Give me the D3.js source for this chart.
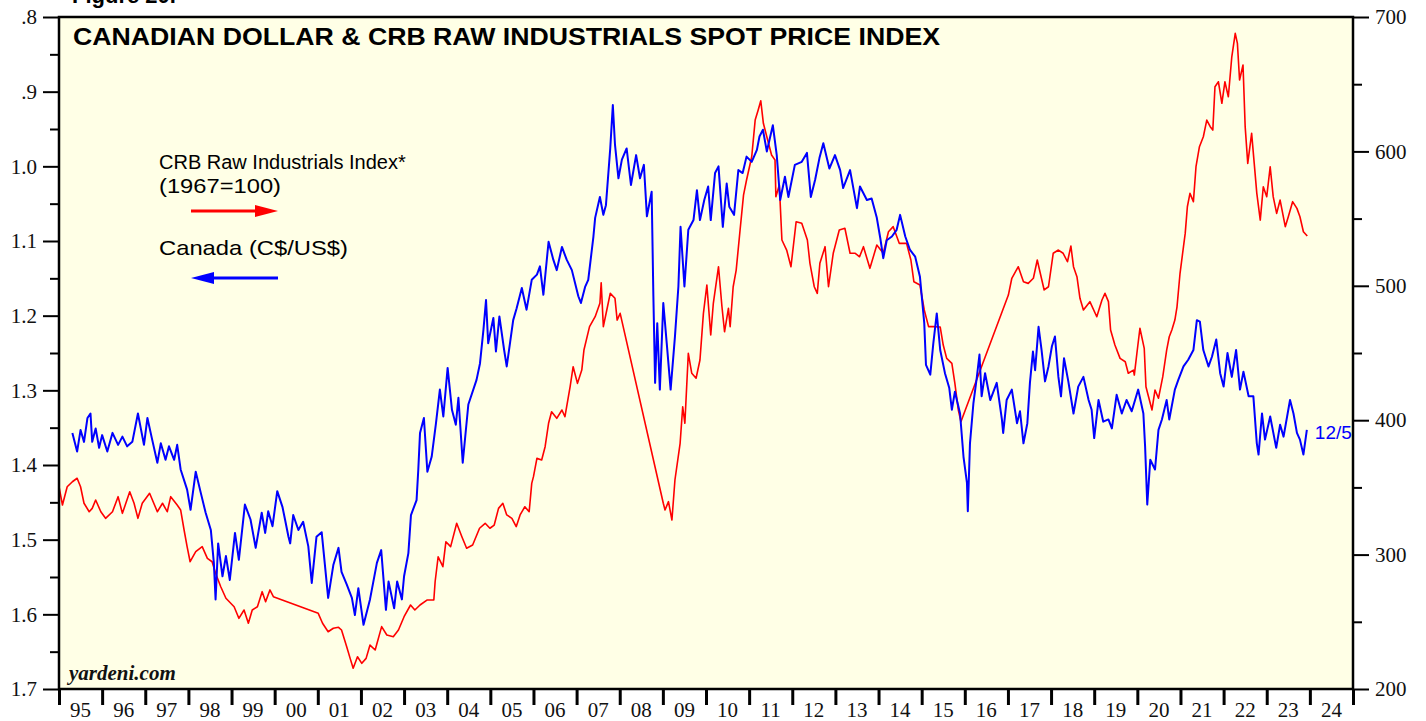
<!DOCTYPE html>
<html>
<head>
<meta charset="utf-8">
<script src="https://cdn.jsdelivr.net/npm/d3@7"></script>
<style>
  body { margin: 0; background: #fff; }
  svg { display: block; }
</style>
</head>
<body>
<svg id="chart" width="1426" height="721"></svg>
<script>
// Canadian dollar, C$ per US$ (left axis, inverted)
var cadYears = [1995.31,1995.42,1995.50,1995.58,1995.66,1995.73,1995.77,1995.85,1995.93,1996.00,
  1996.12,1996.24,1996.37,1996.47,1996.58,1996.70,1996.83,1996.97,1997.05,1997.16,
  1997.28,1997.36,1997.47,1997.55,1997.67,1997.74,1997.82,1997.97,1998.05,1998.17,
  1998.29,1998.40,1998.52,1998.59,1998.63,1998.69,1998.79,1998.87,1998.96,1999.08,
  1999.17,1999.31,1999.44,1999.56,1999.70,1999.78,1999.85,1999.95,2000.06,2000.18,
  2000.24,2000.32,2000.36,2000.43,2000.55,2000.66,2000.78,2000.86,2000.97,2001.09,
  2001.24,2001.36,2001.48,2001.55,2001.67,2001.79,2001.86,2001.94,2002.06,2002.21,
  2002.37,2002.47,2002.58,2002.64,2002.77,2002.84,2002.95,2003.00,2003.10,2003.16,
  2003.29,2003.33,2003.37,2003.46,2003.54,2003.64,2003.74,2003.83,2003.91,2004.01,
  2004.11,2004.20,2004.26,2004.36,2004.49,2004.68,2004.76,2004.84,2004.90,2004.95,
  2005.07,2005.13,2005.21,2005.32,2005.38,2005.46,2005.53,2005.61,2005.73,2005.84,
  2005.96,2006.08,2006.15,2006.23,2006.35,2006.46,2006.54,2006.66,2006.77,2006.89,
  2007.04,2007.10,2007.20,2007.27,2007.39,2007.43,2007.54,2007.62,2007.68,2007.78,
  2007.84,2007.89,2007.97,2008.05,2008.16,2008.26,2008.38,2008.47,2008.56,2008.63,
  2008.74,2008.78,2008.82,2008.87,2008.93,2009.01,2009.09,2009.18,2009.28,2009.36,
  2009.41,2009.50,2009.59,2009.71,2009.79,2009.86,2009.96,2010.05,2010.11,2010.21,
  2010.29,2010.39,2010.48,2010.54,2010.65,2010.75,2010.85,2010.94,2011.06,2011.18,
  2011.24,2011.32,2011.41,2011.55,2011.64,2011.72,2011.83,2011.91,2012.06,2012.22,
  2012.34,2012.43,2012.53,2012.63,2012.72,2012.86,2012.99,2013.11,2013.18,2013.34,
  2013.50,2013.57,2013.73,2013.84,2013.96,2014.04,2014.11,2014.19,2014.31,2014.42,
  2014.50,2014.62,2014.73,2014.85,2014.96,2015.06,2015.10,2015.20,2015.27,2015.35,
  2015.43,2015.54,2015.64,2015.70,2015.77,2015.89,2015.97,2016.05,2016.07,2016.12,
  2016.20,2016.28,2016.34,2016.39,2016.47,2016.59,2016.74,2016.86,2016.89,2016.97,
  2017.09,2017.21,2017.28,2017.36,2017.45,2017.51,2017.58,2017.63,2017.71,2017.78,
  2017.86,2017.94,2018.02,2018.09,2018.17,2018.23,2018.30,2018.40,2018.52,2018.63,
  2018.75,2018.87,2018.94,2019.00,2019.10,2019.21,2019.33,2019.41,2019.52,2019.64,
  2019.75,2019.87,2020.02,2020.14,2020.18,2020.23,2020.30,2020.41,2020.49,2020.57,
  2020.68,2020.74,2020.87,2020.95,2021.07,2021.18,2021.30,2021.38,2021.45,2021.53,
  2021.65,2021.73,2021.83,2021.92,2022.00,2022.09,2022.19,2022.29,2022.38,2022.46,
  2022.58,2022.69,2022.77,2022.81,2022.89,2022.96,2023.08,2023.22,2023.31,2023.39,
  2023.54,2023.62,2023.70,2023.77,2023.85,2023.93];
var cadRate = [1.357,1.382,1.353,1.369,1.337,1.331,1.369,1.351,1.377,1.360,
  1.382,1.357,1.373,1.362,1.375,1.369,1.331,1.373,1.337,1.366,
  1.397,1.371,1.393,1.375,1.393,1.373,1.406,1.433,1.460,1.409,
  1.438,1.464,1.487,1.531,1.580,1.505,1.549,1.522,1.554,1.491,
  1.527,1.453,1.473,1.511,1.464,1.491,1.462,1.482,1.435,1.456,
  1.473,1.496,1.505,1.467,1.487,1.476,1.509,1.558,1.496,1.490,
  1.578,1.534,1.511,1.543,1.560,1.578,1.601,1.565,1.614,1.580,
  1.531,1.514,1.594,1.556,1.592,1.556,1.580,1.549,1.518,1.467,
  1.447,1.406,1.357,1.337,1.409,1.389,1.344,1.299,1.335,1.270,
  1.326,1.346,1.310,1.397,1.319,1.286,1.264,1.219,1.179,1.237,
  1.203,1.248,1.201,1.246,1.268,1.235,1.206,1.190,1.163,1.192,
  1.152,1.145,1.134,1.172,1.101,1.125,1.139,1.108,1.125,1.139,
  1.174,1.183,1.161,1.152,1.094,1.069,1.041,1.065,1.052,0.976,
  0.918,0.971,1.016,0.991,0.976,1.025,0.985,1.016,0.998,1.067,
  1.034,1.174,1.290,1.210,1.299,1.183,1.237,1.299,1.228,1.161,
  1.081,1.161,1.085,1.072,1.032,1.072,1.045,1.027,1.072,1.009,
  1.000,1.081,1.023,1.054,1.065,1.005,1.009,0.987,0.994,0.978,
  0.960,0.951,0.980,0.945,0.985,1.045,1.014,1.041,0.998,0.994,
  0.982,1.041,1.018,0.989,0.969,1.003,0.985,1.005,1.029,1.005,
  1.056,1.027,1.045,1.043,1.069,1.096,1.123,1.099,1.094,1.085,
  1.065,1.094,1.112,1.121,1.148,1.210,1.266,1.279,1.237,1.197,
  1.246,1.277,1.297,1.326,1.302,1.331,1.389,1.424,1.462,1.371,
  1.317,1.282,1.252,1.308,1.277,1.313,1.290,1.339,1.357,1.313,
  1.299,1.344,1.328,1.371,1.344,1.290,1.248,1.273,1.215,1.246,
  1.288,1.268,1.241,1.228,1.282,1.308,1.257,1.288,1.331,1.295,
  1.282,1.313,1.326,1.364,1.313,1.342,1.339,1.351,1.306,1.331,
  1.313,1.328,1.299,1.331,1.375,1.453,1.393,1.406,1.353,1.339,
  1.313,1.339,1.299,1.286,1.268,1.259,1.246,1.206,1.208,1.246,
  1.268,1.255,1.232,1.277,1.295,1.250,1.282,1.246,1.299,1.275,
  1.308,1.308,1.371,1.386,1.331,1.366,1.335,1.377,1.346,1.362,
  1.313,1.331,1.357,1.366,1.386,1.353];

// CRB raw industrials spot price index, 1967=100 (right axis)
var crbYears = [1995.00,1995.08,1995.19,1995.31,1995.42,1995.50,1995.58,1995.70,1995.77,1995.85,
  1995.97,1996.08,1996.24,1996.37,1996.47,1996.64,1996.74,1996.83,1996.93,1997.10,
  1997.28,1997.40,1997.51,1997.59,1997.74,1997.82,1997.90,1997.97,1998.04,1998.17,
  1998.32,1998.44,1998.55,1998.63,1998.75,1998.87,1999.06,1999.17,1999.29,1999.39,
  1999.48,1999.60,1999.71,1999.79,1999.89,1999.97,2001.01,2001.11,2001.24,2001.36,
  2001.48,2001.55,2001.67,2001.75,2001.82,2001.92,2002.02,2002.12,2002.21,2002.33,
  2002.48,2002.60,2002.75,2002.87,2003.00,2003.15,2003.25,2003.37,2003.53,2003.69,
  2003.72,2003.79,2003.90,2003.97,2004.08,2004.22,2004.34,2004.45,2004.59,2004.75,
  2004.88,2004.99,2005.09,2005.19,2005.29,2005.38,2005.50,2005.60,2005.69,2005.80,
  2005.90,2005.96,2006.00,2006.08,2006.19,2006.27,2006.35,2006.42,2006.54,2006.66,
  2006.73,2006.85,2006.92,2007.02,2007.12,2007.17,2007.30,2007.43,2007.54,2007.57,
  2007.62,2007.70,2007.78,2007.89,2007.94,2008.01,2009.01,2009.05,2009.13,2009.21,
  2009.28,2009.40,2009.46,2009.51,2009.59,2009.67,2009.77,2009.86,2009.94,2010.02,
  2010.11,2010.17,2010.29,2010.37,2010.43,2010.52,2010.56,2010.63,2010.70,2010.79,
  2010.87,2010.94,2011.06,2011.14,2011.21,2011.27,2011.33,2011.41,2011.52,2011.60,
  2011.62,2011.70,2011.76,2011.87,2011.97,2012.09,2012.22,2012.35,2012.41,2012.51,
  2012.58,2012.64,2012.76,2012.84,2012.95,2013.09,2013.22,2013.34,2013.46,2013.56,
  2013.65,2013.80,2013.96,2014.11,2014.23,2014.34,2014.48,2014.65,2014.75,2014.82,
  2014.96,2015.06,2015.16,2015.27,2015.43,2015.50,2015.58,2015.70,2015.77,2015.85,
  2015.91,2017.01,2017.09,2017.24,2017.36,2017.47,2017.59,2017.68,2017.75,2017.84,
  2017.94,2018.05,2018.17,2018.28,2018.38,2018.46,2018.52,2018.60,2018.67,2018.75,
  2018.90,2019.06,2019.18,2019.25,2019.33,2019.38,2019.48,2019.60,2019.72,2019.79,
  2019.91,2019.93,2019.99,2020.06,2020.16,2020.20,2020.26,2020.34,2020.41,2020.49,
  2020.59,2020.68,2020.74,2020.80,2020.87,2020.92,2020.99,2021.07,2021.11,2021.16,
  2021.22,2021.30,2021.36,2021.44,2021.53,2021.61,2021.69,2021.75,2021.80,2021.88,
  2021.96,2022.03,2022.11,2022.19,2022.27,2022.32,2022.37,2022.45,2022.50,2022.56,
  2022.65,2022.71,2022.77,2022.85,2022.92,2023.00,2023.08,2023.15,2023.23,2023.31,
  2023.43,2023.50,2023.60,2023.70,2023.77,2023.85,2023.94];
var crbIndex = [350.5,336.9,350.5,354.2,356.8,350.5,338.2,331.9,334.4,340.6,
  331.9,327.0,331.9,343.1,330.7,346.8,338.2,327.0,338.2,345.6,
  331.9,338.2,331.9,343.1,336.9,333.2,318.3,305.9,294.7,302.2,
  305.9,297.2,294.7,286.1,276.1,267.5,261.2,252.6,258.8,248.9,
  258.8,261.2,272.4,265.0,273.7,268.7,256.3,248.9,242.6,245.2,
  245.9,243.9,231.5,222.8,215.4,224.0,219.1,222.8,232.7,229.0,
  246.4,240.2,238.9,243.9,253.8,262.5,258.8,262.5,266.2,266.2,
  279.8,298.4,291.0,309.6,305.9,323.3,313.3,304.7,307.1,319.6,
  323.3,319.6,322.0,334.4,338.2,329.5,327.0,320.8,329.5,335.6,
  331.9,353.0,358.0,371.6,370.4,380.3,397.7,406.3,401.4,407.6,
  402.6,424.9,439.8,427.4,437.3,452.2,469.6,477.0,487.0,502.3,
  469.6,482.0,494.4,490.7,474.5,479.5,338.2,333.2,339.4,325.7,
  355.5,382.8,410.0,397.7,449.8,434.9,431.2,444.8,479.5,500.6,
  463.4,487.0,514.2,484.4,465.8,483.2,469.6,499.3,511.7,541.5,
  567.5,578.7,596.0,623.3,630.8,637.7,620.9,610.9,597.3,593.6,
  566.3,575.0,534.1,526.6,514.2,547.7,546.5,534.1,516.7,499.3,
  494.4,516.7,529.1,499.3,524.2,541.5,542.8,524.2,524.2,521.6,
  529.1,513.0,530.3,524.2,540.2,544.0,531.6,531.6,519.2,503.0,
  500.6,482.0,469.6,469.6,469.3,455.9,446.0,442.3,427.4,407.6,
  398.9,493.1,505.6,514.2,503.0,501.8,505.6,519.2,509.3,496.9,
  499.3,524.2,526.6,524.2,517.9,529.6,514.2,506.8,490.7,482.0,
  488.2,477.0,489.4,494.4,488.2,467.1,455.9,446.0,443.5,434.9,
  437.3,433.6,449.8,468.4,453.5,424.9,417.5,407.6,422.5,416.3,
  432.4,452.2,462.1,467.1,474.5,484.4,509.3,529.1,539.0,558.8,
  568.8,562.6,588.6,603.5,610.9,623.3,618.4,615.9,648.1,651.8,
  635.8,651.8,640.7,670.4,687.8,680.4,653.1,664.3,618.4,591.1,
  613.4,591.1,568.8,548.9,573.7,566.3,588.6,566.3,553.9,563.8,
  544.0,551.4,562.6,557.6,551.4,540.2,537.0];

var yearLabels = ['95','96','97','98','99','00','01','02','03','04','05','06','07','08','09',
  '10','11','12','13','14','15','16','17','18','19','20','21','22','23','24'];
var cadMajor = [0.8, 0.9, 1.0, 1.1, 1.2, 1.3, 1.4, 1.5, 1.6, 1.7];
var cadMinor = [0.85, 0.95, 1.05, 1.15, 1.25, 1.35, 1.45, 1.55, 1.65];
var crbMajor = [200, 300, 400, 500, 600, 700];
var crbMinor = [250, 350, 450, 550, 650];

var margin = {top: 17, right: 73, bottom: 32, left: 59};
var width = 1426 - margin.left - margin.right;
var height = 721 - margin.top - margin.bottom;

var x = d3.scaleLinear().domain([1995, 2025]).range([0, width]);
var yL = d3.scaleLinear().domain([0.8, 1.7]).range([0, height]);
var yR = d3.scaleLinear().domain([200, 700]).range([height, 0]);

var svg = d3.select('#chart');

// figure caption, mostly cut off at the top edge (as in the source image)
svg.append('text')
    .attr('x', 72).attr('y', 3)
    .attr('font-family', 'Liberation Sans, Arial, sans-serif')
    .attr('font-weight', 'bold')
    .attr('font-size', 22)
    .text('Figure 20.');

var g = svg.append('g')
    .attr('transform', 'translate(' + margin.left + ',' + margin.top + ')');

g.append('rect')
    .attr('width', width).attr('height', height)
    .attr('fill', '#ffffe6');

g.append('clipPath').attr('id', 'plot-clip')
  .append('rect').attr('width', width).attr('height', height);

var cadData = cadYears.map(function(d, i) { return {year: d, value: cadRate[i]}; });
var crbData = crbYears.map(function(d, i) { return {year: d, value: crbIndex[i]}; });

var cadLine = d3.line()
    .x(function(d) { return x(d.year); })
    .y(function(d) { return yL(d.value); });
var crbLine = d3.line()
    .x(function(d) { return x(d.year); })
    .y(function(d) { return yR(d.value); });

var lines = g.append('g').attr('clip-path', 'url(#plot-clip)');
lines.append('path')
    .datum(crbData)
    .attr('fill', 'none')
    .attr('stroke', '#ff0000')
    .attr('stroke-width', 1.6)
    .attr('stroke-linejoin', 'round')
    .attr('d', crbLine);
lines.append('path')
    .datum(cadData)
    .attr('fill', 'none')
    .attr('stroke', '#0000ff')
    .attr('stroke-width', 2)
    .attr('stroke-linejoin', 'round')
    .attr('d', cadLine);

// frame
g.append('rect')
    .attr('width', width).attr('height', height)
    .attr('fill', 'none')
    .attr('stroke', '#000')
    .attr('stroke-width', 2.5);

function cadFormat(v) {
  var s = d3.format('.1f')(v);
  return s.charAt(0) === '0' ? s.slice(1) : s;
}

function styleAxis(sel, w) {
  sel.select('.domain').remove();
  sel.selectAll('.tick line').attr('stroke', '#000').attr('stroke-width', w);
  sel.selectAll('.tick text')
      .attr('fill', '#111')
      .attr('font-family', 'Liberation Serif, Times New Roman, serif')
      .attr('font-size', 21);
}

// left axis (inverted C$/US$)
g.append('g')
    .call(d3.axisLeft(yL).tickValues(cadMinor).tickSize(9).tickFormat(''))
    .call(styleAxis, 2);
g.append('g')
    .call(d3.axisLeft(yL).tickValues(cadMajor).tickSize(16).tickPadding(6).tickFormat(cadFormat))
    .call(styleAxis, 2);

// right axis (CRB index)
g.append('g')
    .attr('transform', 'translate(' + width + ',0)')
    .call(d3.axisRight(yR).tickValues(crbMinor).tickSize(9).tickFormat(''))
    .call(styleAxis, 2);
g.append('g')
    .attr('transform', 'translate(' + width + ',0)')
    .call(d3.axisRight(yR).tickValues(crbMajor).tickSize(16).tickPadding(6).tickFormat(d3.format('d')))
    .call(styleAxis, 2);

// bottom axis: year boundaries, labels centred in each year
g.append('g')
    .attr('transform', 'translate(0,' + height + ')')
    .call(d3.axisBottom(x).tickValues(d3.range(1995, 2026)).tickSize(16).tickFormat(''))
    .call(styleAxis, 3);
g.append('g').selectAll('text')
    .data(yearLabels)
    .enter().append('text')
    .attr('x', function(d, i) { return x(1995.5 + i); })
    .attr('y', height + 28)
    .attr('text-anchor', 'middle')
    .attr('fill', '#111')
    .attr('font-family', 'Liberation Serif, Times New Roman, serif')
    .attr('font-size', 21)
    .text(function(d) { return d; });

// title
g.append('text')
    .attr('x', 14).attr('y', 28)
    .attr('font-family', 'Liberation Sans, Arial, sans-serif')
    .attr('font-weight', 'bold')
    .attr('font-size', 23)
    .attr('fill', '#000')
    .attr('textLength', 867)
    .attr('lengthAdjust', 'spacingAndGlyphs')
    .text('CANADIAN DOLLAR & CRB RAW INDUSTRIALS SPOT PRICE INDEX');

// legend
var legendFont = 'Liberation Sans, Arial, sans-serif';
g.append('text').attr('x', 100).attr('y', 152)
    .attr('font-family', legendFont).attr('font-size', 20).attr('fill', '#000')
    .text('CRB Raw Industrials Index*');
g.append('text').attr('x', 100).attr('y', 176)
    .attr('font-family', legendFont).attr('font-size', 21).attr('fill', '#000')
    .attr('textLength', 122).attr('lengthAdjust', 'spacingAndGlyphs')
    .text('(1967=100)');
g.append('line')
    .attr('x1', 132).attr('x2', 200).attr('y1', 194).attr('y2', 194)
    .attr('stroke', '#ff0000').attr('stroke-width', 3);
g.append('path')
    .attr('d', 'M196,188 L219,194 L196,200 Z')
    .attr('fill', '#ff0000');
g.append('text').attr('x', 100).attr('y', 238)
    .attr('font-family', legendFont).attr('font-size', 21).attr('fill', '#000')
    .attr('textLength', 189).attr('lengthAdjust', 'spacingAndGlyphs')
    .text('Canada (C$/US$)');
g.append('line')
    .attr('x1', 152).attr('x2', 219).attr('y1', 261).attr('y2', 261)
    .attr('stroke', '#0000ff').attr('stroke-width', 3);
g.append('path')
    .attr('d', 'M155,255 L132,261 L155,267 Z')
    .attr('fill', '#0000ff');

// last-date label
g.append('text')
    .attr('x', x(2023.93) + 8)
    .attr('y', yL(cadRate[cadRate.length - 1]) + 9)
    .attr('font-family', legendFont).attr('font-size', 19)
    .attr('fill', '#0000ff')
    .text('12/5');

// source
g.append('text')
    .attr('x', 10).attr('y', height - 9)
    .attr('font-family', 'Liberation Serif, Times New Roman, serif')
    .attr('font-weight', 'bold').attr('font-style', 'italic')
    .attr('font-size', 21).attr('fill', '#111')
    .text('yardeni.com');
</script>
</body>
</html>
